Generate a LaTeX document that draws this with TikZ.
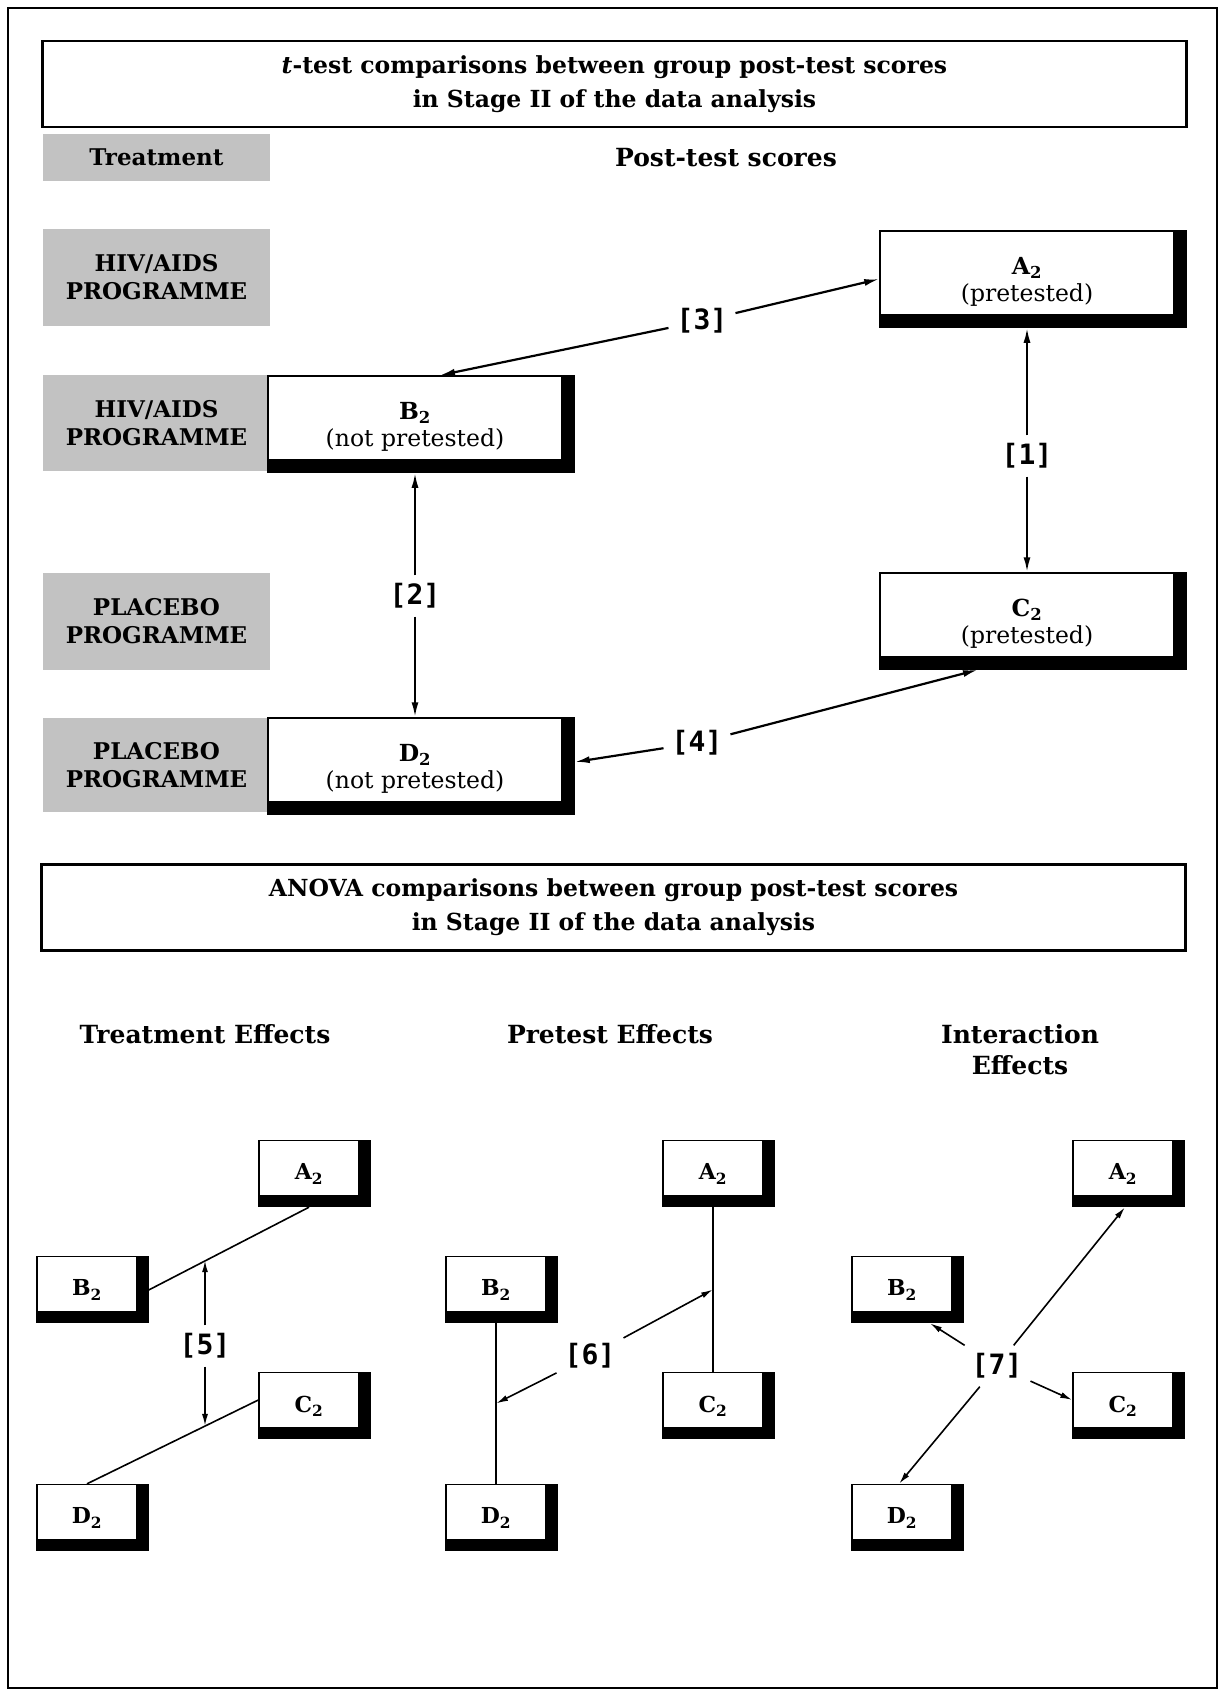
\documentclass[tikz,border=0pt]{standalone}
\usepackage{fontspec}
\setmainfont{DejaVu Serif}
\newfontfamily\tagfont{DejaVu Sans Mono}
\usetikzlibrary{calc,arrows.meta}
\begin{document}
\begin{tikzpicture}[x=1pt,y=-1pt,
  frame/.style={line width=2pt},
  titlebox/.style={draw, line width=2.4pt, minimum width=1144pt, minimum height=86pt, align=center, inner sep=0pt, font=\fontsize{23.5}{34}\selectfont\bfseries},
  head/.style={align=center, inner sep=0pt, font=\fontsize{25}{31}\selectfont\bfseries},
  greybox/.style={fill=black!24, minimum width=227pt, align=center, inner sep=0pt, font=\fontsize{23}{28}\selectfont\bfseries},
  bigbox/.style={draw, line width=1.5pt, fill=white, minimum width=294pt, minimum height=84pt, inner sep=0pt},
  smallbox/.style={draw, line width=1.4pt, fill=white, minimum width=100pt, minimum height=55pt, inner sep=0pt},
  bigtext/.style={align=center, inner sep=0pt, font=\fontsize{23.5}{27}\selectfont},
  smalltext/.style={inner sep=0pt, font=\fontsize{22}{27}\selectfont\bfseries},
  tag/.style={inner sep=8pt, font=\tagfont\bfseries\fontsize{28}{28}\selectfont},
  link/.style={line width=2.2pt, -{Latex[length=15pt,width=7pt]}},
  thinlink/.style={line width=1.6pt, -{Latex[length=12pt,width=6pt]}},
  plain/.style={line width=1.6pt},
]
\fill[white] (0,0) rectangle (1223,1694);
\useasboundingbox (0,0) rectangle (1223,1694);
\draw[frame] (8,8) rectangle (1217,1688);

% ---------- t-test part ----------
\node[titlebox] (title1) at (614.5,84) {{\itshape t}-test comparisons between group post-test scores\\in Stage II of the data analysis};

\node[greybox, minimum height=47pt] (gT) at (156.5,157.5) {Treatment};
\node[head] (post) at (726,158) {Post-test scores};

\node[greybox, minimum height=97pt] (g1) at (156.5,277.5) {HIV/AIDS\\PROGRAMME};
\node[greybox, minimum height=96pt] (g2) at (156.5,423) {HIV/AIDS\\PROGRAMME};
\node[greybox, minimum height=97pt] (g3) at (156.5,621.5) {PLACEBO\\PROGRAMME};
\node[greybox, minimum height=94pt] (g4) at (156.5,765) {PLACEBO\\PROGRAMME};

\node[bigbox] (tA) at (1027,273) {};
\node[bigbox] (tB) at (415,418) {};
\node[bigbox] (tC) at (1027,615) {};
\node[bigbox] (tD) at (415,760) {};
\foreach \n in {tA,tB,tC,tD}{
  \fill (\n.north east) rectangle ([xshift=12pt,yshift=-12pt]\n.south east);
  \fill (\n.south west) rectangle ([xshift=12pt,yshift=-12pt]\n.south east);
}
\node[bigtext] (tAt) at ($(tA)+(0,9)$) {{\bfseries A\textsubscript{2}}\\(pretested)};
\node[bigtext] (tBt) at ($(tB)+(0,9)$) {{\bfseries B\textsubscript{2}}\\(not pretested)};
\node[bigtext] (tCt) at ($(tC)+(0,9)$) {{\bfseries C\textsubscript{2}}\\(pretested)};
\node[bigtext] (tDt) at ($(tD)+(0,9)$) {{\bfseries D\textsubscript{2}}\\(not pretested)};

\node[tag] (l1) at (1027,456) {[1]};
\node[tag] (l2) at (415,596) {[2]};
\node[tag] (l3) at (702,321) {[3]};
\node[tag] (l4) at (697,743) {[4]};

\draw[link] (l1) -- ([yshift=-12pt]tA.south);
\draw[link] (l1) -- (tC.north);
\draw[link] (l2) -- ([yshift=-12pt]tB.south);
\draw[link] (l2) -- (tD.north);
\draw[link] (l3) -- ($(tA.west)+(0,6)$);
\draw[link] (l3) -- ($(tB.north)+(25,0)$);
\draw[link] (l4) -- ($(tC.south)+(-49,12)$);
\draw[link] (l4) -- ($(tD.east)+(12,2)$);

% ---------- ANOVA part ----------
\node[titlebox] (title2) at (613.5,907.5) {ANOVA comparisons between group post-test scores\\in Stage II of the data analysis};

\node[head] (h1) at (205,1034) {Treatment Effects};
\node[head] (h2) at (610,1034) {Pretest Effects};
\node[head] (h3) at (1020,1050) {Interaction\\Effects};

\foreach \g/\ax/\bx in {l/309/87, m/713/496, r/1123/902}{
  \node[smallbox] (\g A) at (\ax,1168) {};
  \node[smallbox] (\g B) at (\bx,1284) {};
  \node[smallbox] (\g C) at (\ax,1400) {};
  \node[smallbox] (\g D) at (\bx,1512) {};
  \foreach \k in {A,B,C,D}{
    \fill (\g\k.north east) rectangle ([xshift=11pt,yshift=-11pt]\g\k.south east);
    \fill (\g\k.south west) rectangle ([xshift=11pt,yshift=-11pt]\g\k.south east);
    \node[smalltext] (\g\k t) at ($(\g\k)+(0,6)$) {\k\textsubscript{2}};
  }
}

% treatment effects
\draw[plain] ([xshift=11pt,yshift=-6pt]lB.east) -- coordinate[pos=0.36] (p5a) ([yshift=-11pt]lA.south);
\draw[plain] (lD.north) -- coordinate[pos=0.69] (p5b) (lC.west);
\node[tag] (l5) at (205,1346) {[5]};
\draw[thinlink] (l5) -- (l5 |- p5a);
\draw[thinlink] (l5) -- (l5 |- p5b);

% pretest effects
\draw[plain] ([yshift=-11pt]mA.south) -- coordinate[pos=0.5] (p6a) (mC.north);
\draw[plain] ([yshift=-11pt]mB.south) -- coordinate[pos=0.5] (p6b) (mD.north);
\node[tag] (l6) at (590,1356) {[6]};
\draw[thinlink] (l6) -- (p6a);
\draw[thinlink] (l6) -- (p6b);

% interaction effects
\node[tag] (l7) at (997,1366) {[7]};
\draw[thinlink] (l7) -- ([xshift=2pt,yshift=-11pt]rA.south);
\draw[thinlink] (l7) -- ([xshift=28pt,yshift=-11pt]rB.south);
\draw[thinlink] (l7) -- (rC.west);
\draw[thinlink] (l7) -- ([xshift=-3pt]rD.north);
\end{tikzpicture}
\end{document}
